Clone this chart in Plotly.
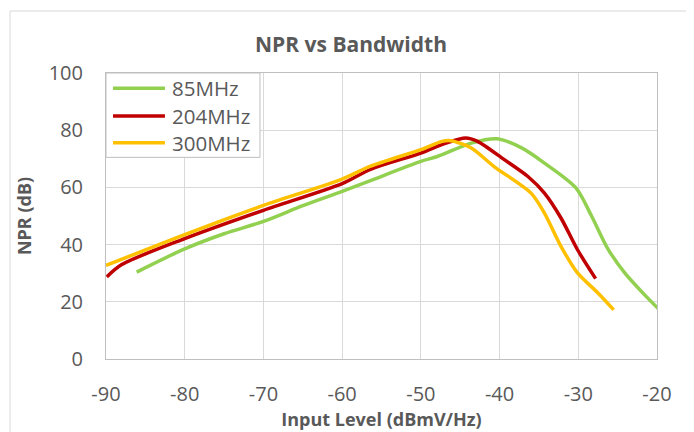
import plotly.graph_objects as go

# Input level (dBmV/Hz) and NPR (dB)
x_85 = [-86.1, -80, -75, -70, -65, -60, -56.4, -50, -47.9, -43.6, -40.3, -37.2, -34.3, -30.3, -28.3, -26.3, -24.1, -21.6, -19.8]
npr_85 = [30.4, 38.5, 43.8, 48.1, 53.6, 58.6, 62.4, 69.1, 70.8, 75.5, 77.0, 73.8, 68.5, 59.8, 49.9, 38.8, 30.1, 22.5, 17.5]

x_204 = [-89.9, -88.0, -80, -70, -60, -56.4, -50, -47.0, -44.3, -42.8, -39.4, -36.4, -34.3, -32.2, -30.1, -27.8]
npr_204 = [28.7, 33.0, 42.1, 52.0, 61.3, 66.3, 72.0, 75.3, 77.3, 76.1, 69.7, 63.8, 58.0, 49.3, 38.2, 28.1]

x_300 = [-90, -80, -70, -60, -56.4, -50, -47.3, -46.2, -43.6, -40.7, -36.0, -34.3, -32.2, -30.1, -27.5, -25.5]
npr_300 = [32.7, 43.5, 53.7, 62.9, 67.4, 73.2, 76.1, 76.3, 73.8, 67.3, 58.0, 51.0, 39.4, 30.1, 23.1, 17.2]

x_ticks = [-90, -80, -70, -60, -50, -40, -30, -20]

series = [
    ('85MHz', x_85, npr_85, '#92d050'),
    ('204MHz', x_204, npr_204, '#c00000'),
    ('300MHz', x_300, npr_300, '#ffc000'),
]

FONT = 'Open Sans'
GREY = '#595959'

fig = go.Figure()
for name, xs, ys, color in series:
    fig.add_trace(go.Scatter(
        x=xs, y=ys, name=name, mode='lines',
        line=dict(color=color, width=3.5, shape='spline', smoothing=0.8),
        showlegend=False,
    ))

# chart border + Excel-style legend box in the top-left corner of the plot area
shapes = [
    dict(type='rect', xref='paper', yref='paper', x0=-0.1742, x1=1.063, y0=-0.27, y1=1.2168,
         line=dict(color='#d9d9d9', width=1), fillcolor='rgba(0,0,0,0)', layer='below'),
    dict(type='rect', xref='paper', yref='paper', x0=0, x1=0.2795, y0=0.705, y1=1,
         line=dict(color='#bfbfbf', width=1), fillcolor='white'),
]
annotations = []
legend_y = [0.9465, 0.8497, 0.7563]
for (name, _, _, color), ly in zip(series, legend_y):
    shapes.append(dict(type='line', xref='paper', yref='paper', x0=0.0127, x1=0.107, y0=ly, y1=ly,
                       line=dict(color=color, width=3.5)))
    annotations.append(dict(xref='paper', yref='paper', x=0.117, y=ly, text=name, showarrow=False,
                            xanchor='left', yanchor='middle', font=dict(family=FONT, size=20.5, color=GREY)))

# the page body adds an 8px margin, so the figure is 8px smaller on each side
fig.update_layout(
    width=686, height=424,
    margin=dict(l=98, r=37, t=65, b=73),
    paper_bgcolor='white', plot_bgcolor='white',
    title=dict(text='<b>NPR vs Bandwidth</b>', x=0.5, xanchor='center', y=0.913, yanchor='middle',
               font=dict(family=FONT, size=21, color=GREY)),
    shapes=shapes,
    annotations=annotations,
    font=dict(family=FONT, color=GREY),
)
fig.update_xaxes(
    range=[-90, -20], tickvals=x_ticks, ticktext=[str(v) for v in x_ticks],
    showgrid=True, gridcolor='#d9d9d9', gridwidth=1,
    showline=True, linecolor='#bfbfbf', linewidth=1, mirror=True,
    zeroline=False, ticks='', ticklabelstandoff=17, automargin=False,
    tickfont=dict(family=FONT, size=20, color=GREY),
    title=dict(text='<b>Input Level (dBmV/Hz)</b>', standoff=5,
               font=dict(family=FONT, size=18, color=GREY)),
)
fig.update_yaxes(
    range=[0, 100], dtick=20,
    showgrid=True, gridcolor='#d9d9d9', gridwidth=1,
    showline=True, linecolor='#bfbfbf', linewidth=1, mirror=True,
    zeroline=False, ticks='', ticklabelstandoff=18, automargin=False,
    tickfont=dict(family=FONT, size=20, color=GREY),
    title=dict(text='<b>NPR (dB)</b>', standoff=12,
               font=dict(family=FONT, size=18, color=GREY)),
)

fig.write_html('out.html')
